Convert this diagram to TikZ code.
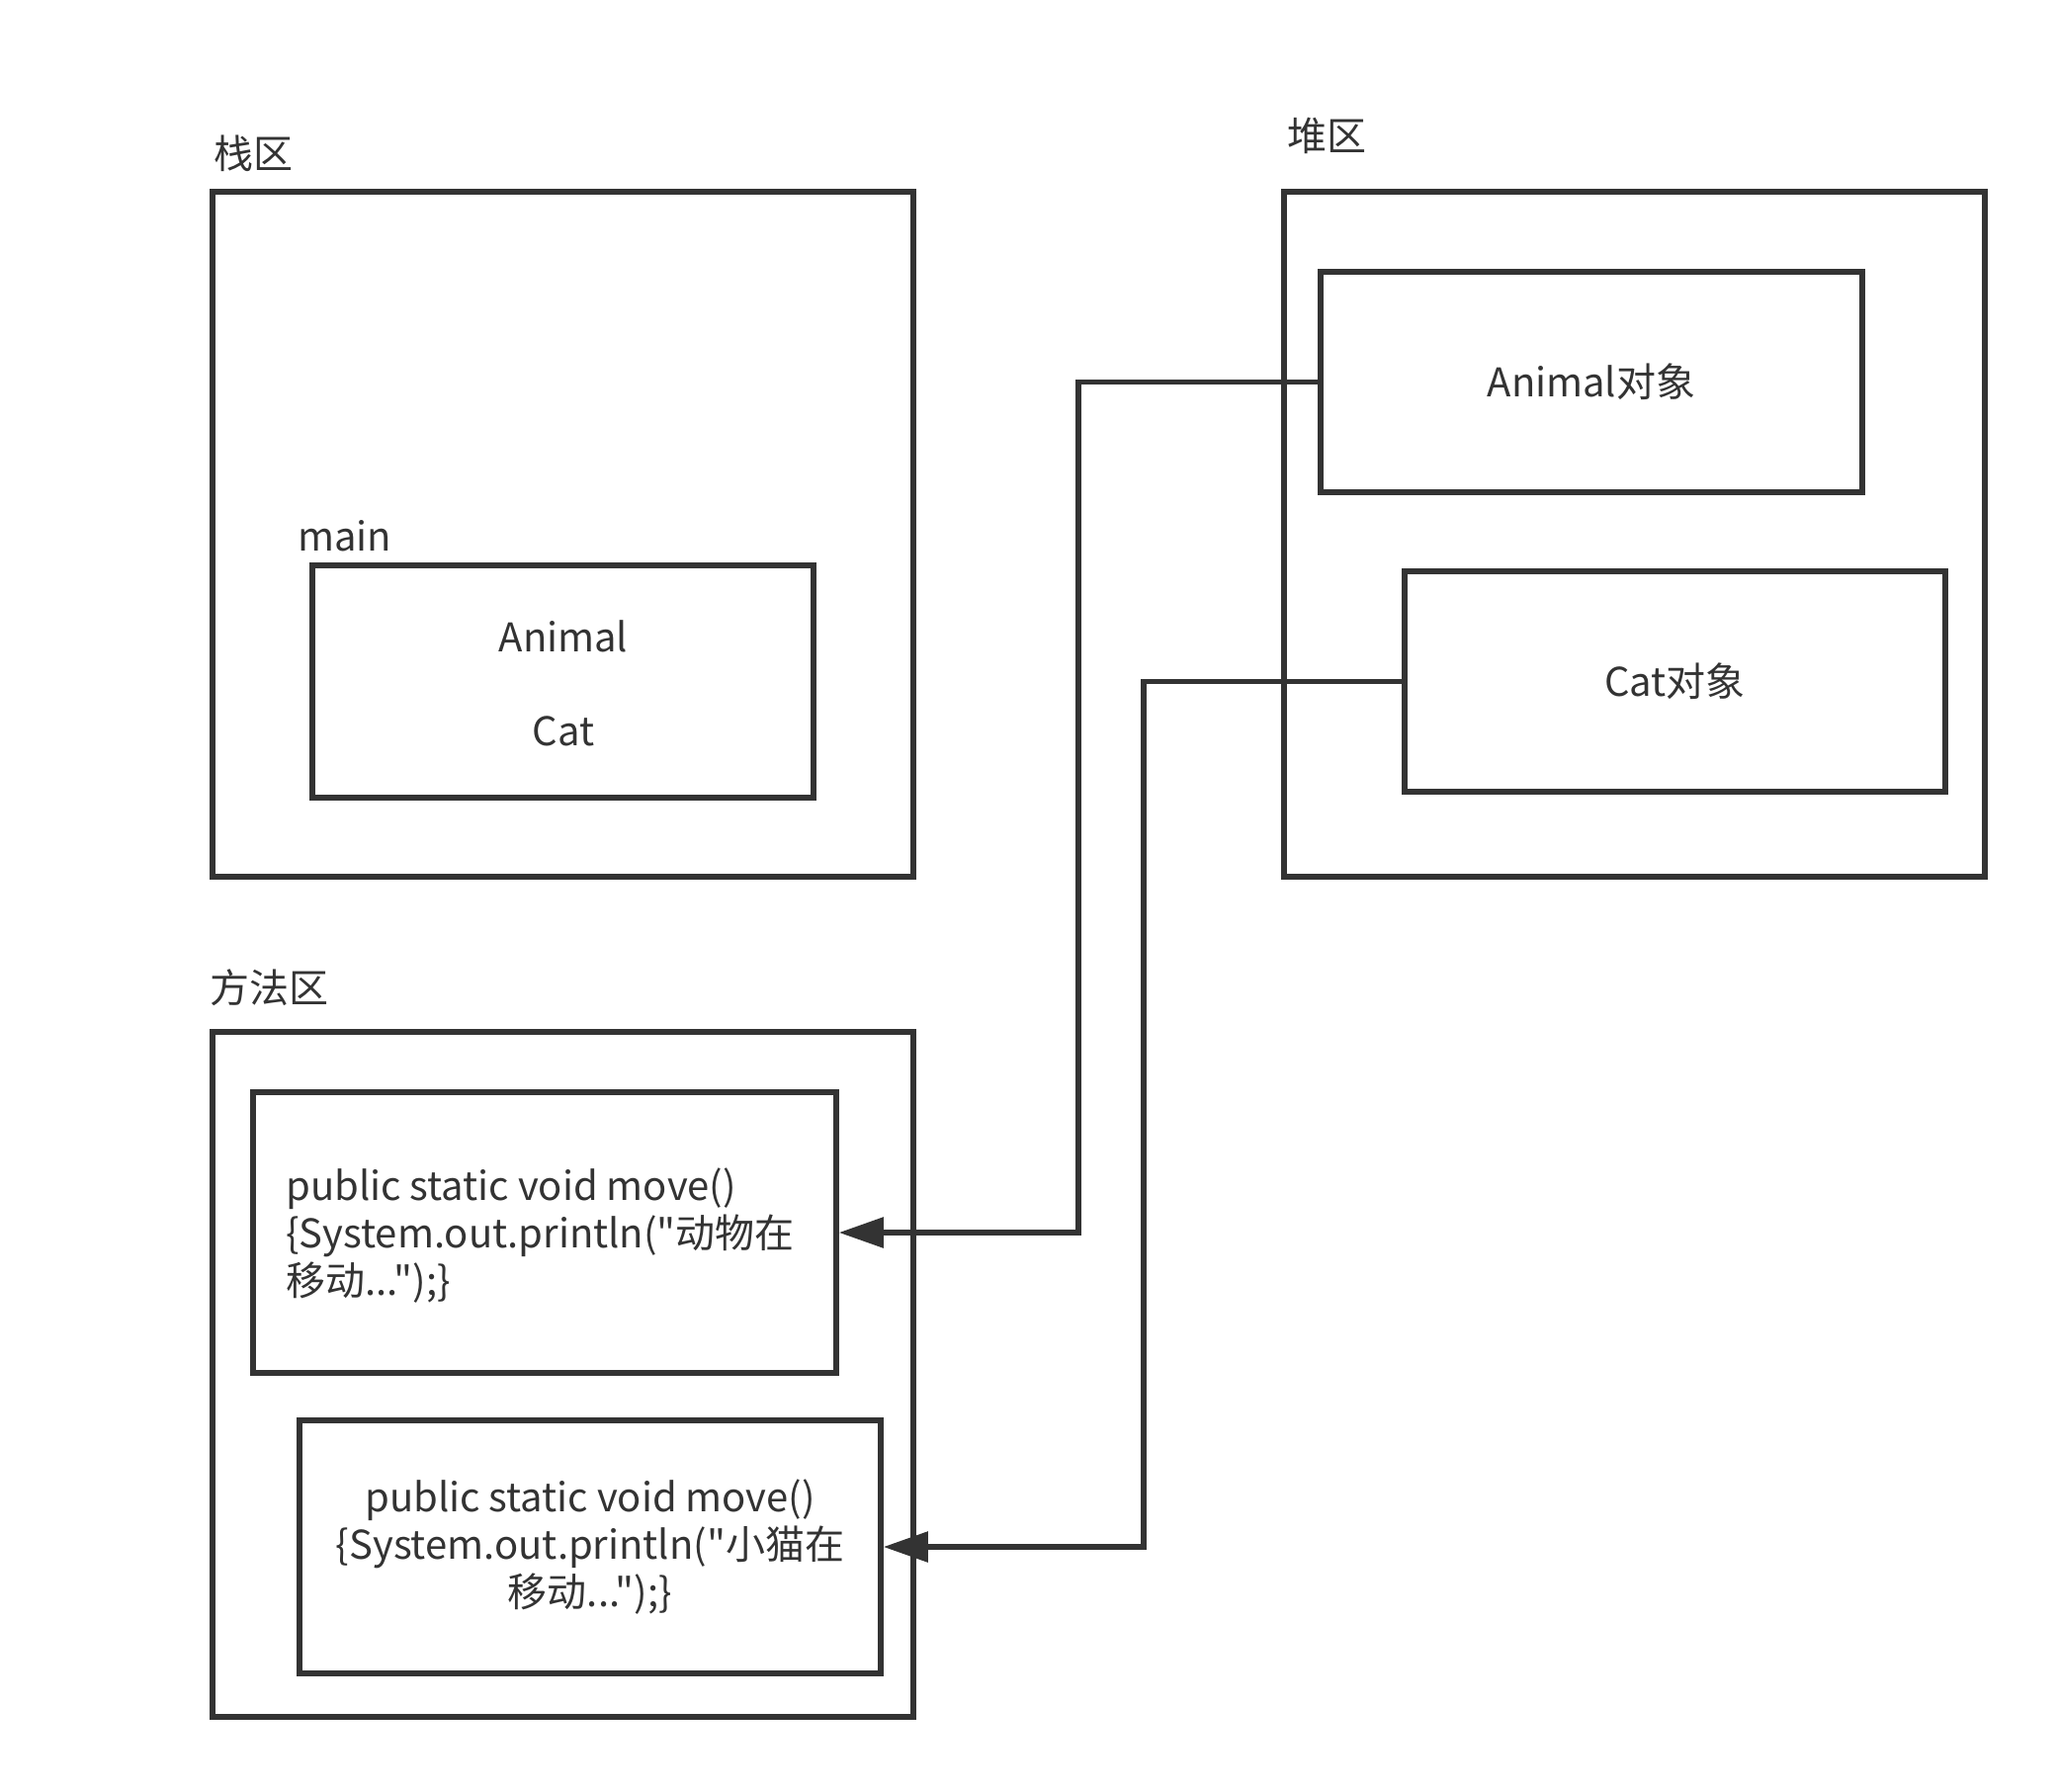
\documentclass[tikz,border=0pt]{standalone}
\usepackage{fontspec}
\newfontfamily\yh{Noto Sans CJK SC}
\usetikzlibrary{arrows.meta}
\definecolor{ink}{HTML}{333333}
\begin{document}
\begin{tikzpicture}[x=0.5pt,y=-0.5pt,
  box/.style={draw=ink, line width=2.75pt, rectangle, inner sep=0pt, text=ink, font=\yh\fontsize{20}{24}\selectfont},
  lbl/.style={text=ink, inner sep=0pt, font=\yh\fontsize{20}{24}\selectfont},
  conn/.style={draw=ink, line width=2.75pt, -{Triangle[length=22.5pt,width=15pt]}}]
\path[use as bounding box] (0,0) rectangle (2082,1812);
% regions
\node[box, minimum width=354.5pt, minimum height=346.5pt] (stack) at (569.5,540.5) {};
\node[box, minimum width=354.5pt, minimum height=346.5pt] (heap) at (1653.5,540.5) {};
\node[box, minimum width=354.5pt, minimum height=346.5pt] (method) at (569.5,1390.5) {};
% region titles
\node[lbl, anchor=west] (stacklbl) at (216,155) {栈区};
\node[lbl, anchor=west] (heaplbl) at (1302,137) {堆区};
\node[lbl, anchor=west] (methodlbl) at (212,999) {方法区};
% main frame
\node[lbl, anchor=west] (mainlbl) at (301,542) {main};
\node[box, minimum width=253.5pt, minimum height=117.5pt] (main) at (569.5,689.5) {};
\node[lbl] (animalvar) at (570,644) {Animal};
\node[lbl] (catvar) at (570,740) {Cat};
% heap objects
\node[box, minimum width=274pt, minimum height=111.5pt] (aobj) at (1610,386.5) {Animal对象};
\node[box, minimum width=273.5pt, minimum height=111.5pt] (cobj) at (1694.5,689.5) {Cat对象};
% methods
\node[box, minimum width=295pt, minimum height=142pt] (m1) at (551,1247) {};
\node[lbl, anchor=west, align=left] (m1txt) at (289,1250) {public static void move()\\\{System.out.println("动物在\\移动...");\}};
\node[box, minimum width=294pt, minimum height=128pt, align=center] (m2) at (597,1565) {public static void move()\\\{System.out.println("小猫在\\移动...");\}};
% connectors
\coordinate (j1) at (1091,386.5);
\coordinate (j2) at (1157,689.5);
\draw[conn] (aobj.west) -- (j1) |- (m1.east);
\draw[conn] (cobj.west) -- (j2) |- (m2.east);
\end{tikzpicture}
\end{document}
